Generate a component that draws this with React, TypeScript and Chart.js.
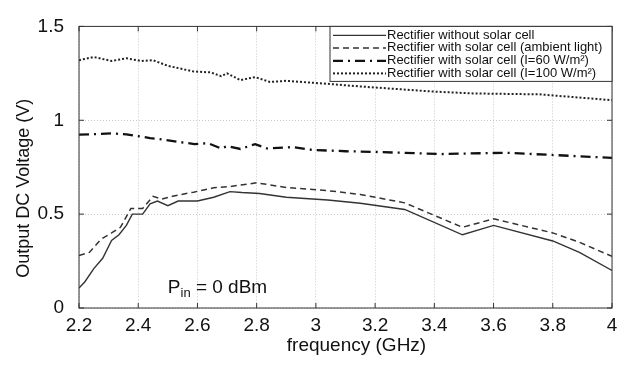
import React, { useEffect, useRef } from "react";
import Chart from "chart.js/auto";

// ---- data ----
const noSolarFreq = [2.2, 2.22, 2.25, 2.28, 2.31, 2.335, 2.36, 2.38, 2.415, 2.44, 2.465, 2.5, 2.535, 2.6, 2.655, 2.71, 2.75, 2.81, 2.9, 3.04, 3.15, 3.3, 3.495, 3.6, 3.8, 3.89, 4.0];
const noSolarV = [0.107, 0.14, 0.21, 0.265, 0.36, 0.39, 0.44, 0.5, 0.5, 0.555, 0.57, 0.545, 0.57, 0.57, 0.59, 0.62, 0.615, 0.61, 0.59, 0.575, 0.558, 0.525, 0.39, 0.44, 0.357, 0.296, 0.2];

const ambientFreq = [2.2, 2.235, 2.275, 2.31, 2.34, 2.375, 2.415, 2.45, 2.48, 2.52, 2.587, 2.655, 2.71, 2.8, 2.9, 3.04, 3.15, 3.3, 3.495, 3.6, 3.8, 3.89, 4.0];
const ambientV = [0.28, 0.296, 0.367, 0.4, 0.43, 0.53, 0.53, 0.595, 0.58, 0.597, 0.617, 0.64, 0.647, 0.667, 0.642, 0.625, 0.605, 0.56, 0.43, 0.475, 0.4, 0.35, 0.275];

const i60Freq = [2.2, 2.31, 2.36, 2.41, 2.44, 2.47, 2.59, 2.635, 2.68, 2.7, 2.745, 2.795, 2.835, 2.92, 2.99, 3.1, 3.19, 3.42, 3.64, 4.0];
const i60V = [0.923, 0.93, 0.925, 0.913, 0.905, 0.9, 0.873, 0.878, 0.85, 0.862, 0.847, 0.873, 0.85, 0.857, 0.842, 0.835, 0.832, 0.82, 0.827, 0.8];

const i100Freq = [2.2, 2.25, 2.31, 2.36, 2.41, 2.45, 2.5, 2.587, 2.645, 2.68, 2.7, 2.745, 2.795, 2.845, 2.9, 3.04, 3.15, 3.395, 3.53, 3.755, 4.0];
const i100V = [1.32, 1.337, 1.316, 1.33, 1.316, 1.32, 1.29, 1.26, 1.255, 1.235, 1.25, 1.214, 1.23, 1.204, 1.21, 1.194, 1.18, 1.153, 1.143, 1.138, 1.107];

const xTickLabels = ["2.2", "2.4", "2.6", "2.8", "3", "3.2", "3.4", "3.6", "3.8", "4"];
const yTickLabels = ["0", "0.5", "1", "1.5"];

const seriesLabels = [
  "Rectifier without solar cell",
  "Rectifier with solar cell (ambient light)",
  "Rectifier with solar cell (I=60 W/m²)",
  "Rectifier with solar cell (I=100 W/m²)",
];
const xTitle = "frequency (GHz)";
const yTitle = "Output DC Voltage (V)";
const pinMain = "P";
const pinSub = "in";
const pinRest = " = 0 dBm";
const pinAt = { x: 2.5, y: 0.08 };

const FONT = "'Liberation Sans', Arial, sans-serif";

const styles = [
  { color: "#333", width: 1.4, dash: [] as number[] },
  { color: "#333", width: 1.5, dash: [6, 4] },
  { color: "#111", width: 2.3, dash: [10, 5, 2, 5] },
  { color: "#222", width: 2, dash: [2, 2] },
];

const toPts = (xs: number[], ys: number[]) => xs.map((x, i) => ({ x, y: ys[i] }));

const findLabel = (labels: string[], v: number) => {
  const hit = labels.find((l) => Math.abs(parseFloat(l) - v) < 1e-6);
  return hit ?? "";
};

const framePlugin = {
  id: "frame",
  afterDraw(chart: any) {
    const { ctx, chartArea: a, scales } = chart;
    const xs = scales.x;
    const ys = scales.y;
    ctx.save();
    ctx.strokeStyle = "#333";
    ctx.lineWidth = 1;
    ctx.setLineDash([]);
    ctx.strokeRect(a.left, a.top, a.right - a.left, a.bottom - a.top);
    const line = (x1: number, y1: number, x2: number, y2: number) => {
      ctx.beginPath();
      ctx.moveTo(x1, y1);
      ctx.lineTo(x2, y2);
      ctx.stroke();
    };
    const tl = 5;
    xs.ticks.forEach((t: any) => {
      const px = xs.getPixelForValue(t.value);
      line(px, a.bottom, px, a.bottom - tl);
      line(px, a.top, px, a.top + tl);
    });
    ys.ticks.forEach((t: any) => {
      const py = ys.getPixelForValue(t.value);
      line(a.left, py, a.left + tl, py);
      line(a.right, py, a.right - tl, py);
    });

    // legend box
    const lx = a.right - 282;
    const ly = a.top;
    const lw = a.right - lx;
    const lh = 55;
    ctx.fillStyle = "#fff";
    ctx.fillRect(lx, ly, lw, lh);
    ctx.strokeStyle = "#333";
    ctx.lineWidth = 1;
    ctx.strokeRect(lx, ly, lw, lh);
    const rows = [9, 21.5, 34.5, 47];
    ctx.font = `13px ${FONT}`;
    ctx.textBaseline = "middle";
    ctx.textAlign = "left";
    seriesLabels.forEach((lab, i) => {
      const s = styles[i];
      const ry = ly + rows[i];
      ctx.strokeStyle = s.color;
      ctx.lineWidth = s.width;
      ctx.setLineDash(s.dash);
      line(lx + 3, ry, lx + 56, ry);
      ctx.setLineDash([]);
      ctx.fillStyle = "#111";
      ctx.fillText(lab, lx + 57, ry);
    });

    // P_in annotation
    const px = xs.getPixelForValue(pinAt.x);
    const py = ys.getPixelForValue(pinAt.y);
    ctx.textBaseline = "alphabetic";
    ctx.fillStyle = "#111";
    ctx.font = `19px ${FONT}`;
    ctx.fillText(pinMain, px, py);
    let cx = px + ctx.measureText(pinMain).width;
    ctx.font = `13px ${FONT}`;
    ctx.fillText(pinSub, cx, py + 4);
    cx += ctx.measureText(pinSub).width;
    ctx.font = `19px ${FONT}`;
    ctx.fillText(pinRest, cx, py);

    // axis titles
    ctx.fillStyle = "#111";
    ctx.textBaseline = "middle";
    ctx.textAlign = "center";
    ctx.font = `19px ${FONT}`;
    ctx.fillText(xTitle, (a.left + a.right) / 2 + 11, a.bottom + 38);
    ctx.save();
    ctx.translate(24, (a.top + a.bottom) / 2 + 21);
    ctx.rotate(-Math.PI / 2);
    ctx.font = `18px ${FONT}`;
    ctx.fillText(yTitle, 0, 0);
    ctx.restore();
    ctx.restore();
  },
};

export default function App() {
  const ref = useRef<HTMLCanvasElement | null>(null);
  useEffect(() => {
    if (!ref.current) return;
    const data = [toPts(noSolarFreq, noSolarV), toPts(ambientFreq, ambientV), toPts(i60Freq, i60V), toPts(i100Freq, i100V)];
    const chart = new Chart(ref.current, {
      type: "line",
      data: {
        datasets: data.map((d, i) => ({
          label: seriesLabels[i],
          data: d,
          borderColor: styles[i].color,
          borderWidth: styles[i].width,
          borderDash: styles[i].dash,
          pointRadius: 0,
          tension: 0,
          fill: false,
        })),
      },
      options: {
        responsive: false,
        animation: false,
        layout: { padding: { top: 15, right: 15, left: 0, bottom: 0 } },
        plugins: { legend: { display: false }, tooltip: { enabled: false } },
        scales: {
          x: {
            type: "linear",
            min: 2.2,
            max: 4,
            ticks: {
              stepSize: 0.2,
              padding: 6,
              color: "#111",
              font: { family: FONT, size: 19 },
              maxRotation: 0,
              autoSkip: false,
              callback: (v: any) => findLabel(xTickLabels, Number(v)),
            },
            grid: { color: "#c8c8c8", drawTicks: false, lineWidth: 1 },
            border: { display: false, dash: [1, 2] },
            title: { display: false },
            afterFit: (s: any) => { s.height = 62; },
          },
          y: {
            type: "linear",
            min: 0,
            max: 1.5,
            ticks: {
              stepSize: 0.5,
              padding: 15,
              color: "#111",
              font: { family: FONT, size: 19 },
              callback: (v: any) => findLabel(yTickLabels, Number(v)),
            },
            grid: { color: "#c8c8c8", drawTicks: false, lineWidth: 1 },
            border: { display: false, dash: [1, 2] },
            title: { display: false },
            afterFit: (s: any) => { s.width = 79; },
          },
        },
      },
      plugins: [framePlugin],
    } as any);
    return () => chart.destroy();
  }, []);
  return (
    <div style={{ position: "absolute", left: 0, top: 0, width: 627, height: 370, background: "#fff" }}>
      <canvas ref={ref} width={627} height={370} />
    </div>
  );
}
